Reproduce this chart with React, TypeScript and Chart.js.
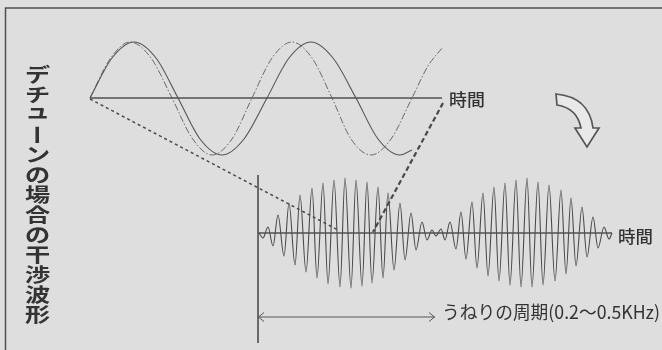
import React, { useEffect, useRef } from "react";
import { Chart, registerables } from "chart.js";

Chart.register(...registerables);

// ---- data (pixel-like units of a 662x350 frame) ----
const titleText = "デチューンの場合の干渉波形";
const timeLabel = "時間";
const periodLabel = "うねりの周期(0.2〜0.5KHz)";

// upper figure: two sine waves of slightly different pitch
const topAxisX = [90, 442];
const topAxisY = [98, 98];
const waveAX = [90, 110, 130, 151, 172, 192, 212, 232, 252, 272, 292, 312, 332, 351, 371, 391, 412, 428, 443];
const waveAY = [98, 59, 42, 58, 98, 138, 155, 139, 98, 58, 42, 58, 98, 139, 155, 139, 98, 66, 47];
const waveBX = [90, 112, 134, 156, 178, 200, 222, 244, 267, 289, 311, 333, 356, 378, 400, 412];
const waveBY = [98, 58, 42, 58, 98, 139, 155, 139, 98, 58, 42, 58, 98, 139, 155, 150];

// lower figure: interference (beat) waveform, peaks and troughs
const beatAxisX = [258, 612];
const beatAxisY = [233, 233];
const beatX = [259, 263, 268, 273, 278, 284, 289, 295, 300, 306, 312, 317, 323, 328, 334, 340, 345, 351, 356, 362, 367, 372, 378, 383, 388, 394, 400, 405, 411, 416, 422, 427, 432, 436, 441, 445, 450, 456, 461, 466, 472, 477, 483, 488, 494, 499, 505, 510, 516, 521, 527, 532, 538, 543, 549, 555, 561, 566, 571, 576, 582, 587, 593, 598, 604, 609, 612];
const beatY = [233, 238, 227, 246, 215, 256, 203, 265, 195, 272, 188, 278, 183, 284, 180, 287, 178, 288, 180, 286, 182, 283, 187, 278, 193, 270, 203, 260, 213, 250, 222, 240, 230, 236, 229, 240, 222, 249, 212, 259, 202, 268, 193, 276, 187, 281, 183, 285, 180, 287, 178, 287, 182, 285, 185, 281, 190, 274, 198, 266, 207, 257, 217, 248, 227, 239, 233];

// guide lines
const startMarkX = [258, 258];
const startMarkY = [175, 343];
const guide1X = [90, 338];
const guide1Y = [99, 230];
const guide2X = [443, 373];
const guide2Y = [103, 232];
const periodArrowX = [258, 435];
const periodArrowY = [317, 317];

const pts = (xs: number[], ys: number[]) => xs.map((x, i) => ({ x, y: ys[i] }));

const INK = "#4a4a4a";
const TEXT = "#333333";

const decorPlugin = {
  id: "decor",
  beforeDatasetsDraw(chart: any) {
    const { ctx, scales } = chart;
    const X = (v: number) => scales.x.getPixelForValue(v);
    const Y = (v: number) => scales.y.getPixelForValue(v);
    ctx.save();
    // frame
    ctx.strokeStyle = "#505050";
    ctx.lineWidth = 1.5;
    ctx.beginPath();
    ctx.moveTo(X(662), Y(8));
    ctx.lineTo(X(5.5), Y(8));
    ctx.lineTo(X(5.5), Y(350));
    ctx.stroke();
    ctx.restore();
  },
  afterDatasetsDraw(chart: any) {
    const { ctx, scales } = chart;
    const X = (v: number) => scales.x.getPixelForValue(v);
    const Y = (v: number) => scales.y.getPixelForValue(v);
    ctx.save();

    // period arrow heads
    ctx.strokeStyle = "#555";
    ctx.lineWidth = 1;
    ctx.beginPath();
    ctx.moveTo(X(264), Y(312.5));
    ctx.lineTo(X(258.5), Y(317));
    ctx.lineTo(X(264), Y(321.5));
    ctx.moveTo(X(429), Y(312.5));
    ctx.lineTo(X(434.5), Y(317));
    ctx.lineTo(X(429), Y(321.5));
    ctx.stroke();

    // curved hollow arrow
    ctx.beginPath();
    ctx.moveTo(X(556), Y(94));
    ctx.quadraticCurveTo(X(589), Y(97), X(593), Y(128));
    ctx.lineTo(X(599), Y(128));
    ctx.lineTo(X(587), Y(147));
    ctx.lineTo(X(575), Y(128));
    ctx.lineTo(X(581), Y(128));
    ctx.quadraticCurveTo(X(577), Y(108), X(557), Y(105));
    ctx.closePath();
    ctx.fillStyle = "#e9e9e9";
    ctx.fill();
    ctx.strokeStyle = "#555";
    ctx.lineWidth = 1.7;
    ctx.lineJoin = "miter";
    ctx.stroke();

    // texts
    ctx.fillStyle = TEXT;
    ctx.textAlign = "center";
    ctx.textBaseline = "middle";
    const fit = (text: string, left: number, right: number, cy: number, font: string, sy: number) => {
      ctx.save();
      ctx.font = font;
      const w = ctx.measureText(text).width;
      const sx = (X(right) - X(left)) / w;
      ctx.translate((X(left) + X(right)) / 2, Y(cy));
      ctx.scale(sx, sy);
      ctx.fillText(text, 0, 0);
      ctx.restore();
    };
    fit(timeLabel, 449, 485, 100, '500 18px "Noto Sans CJK JP"', 0.92);
    fit(timeLabel, 618, 653, 237, '500 18px "Noto Sans CJK JP"', 0.92);
    fit(periodLabel, 442, 660, 312, '400 19px "Noto Sans CJK JP"', 0.95);

    // vertical title
    const chars = Array.from(titleText);
    chars.forEach((ch, i) => {
      ctx.save();
      ctx.font = '700 21px "Noto Sans CJK JP"';
      let dy = 0;
      let dx = 0;
      if (ch === "ュ") {
        dy = -4;
        dx = 0;
      }
      ctx.translate(X(37.5 + dx), Y(75 + i * 20 + dy));
      if (ch === "ー") {
        ctx.rotate(Math.PI / 2);
        ctx.scale(0.95, 1.15);
      } else {
        ctx.scale(1.2, 0.93);
      }
      ctx.fillText(ch, 0, 0);
      ctx.restore();
    });
    ctx.restore();
  },
};

export default function App() {
  const canvasRef = useRef<HTMLCanvasElement>(null);
  useEffect(() => {
    document.body.style.margin = "0";
    const line = (data: any[], color: string, width: number, dash: number[] = [], smooth = false) => ({
      data,
      showLine: true,
      borderColor: color,
      backgroundColor: color,
      borderWidth: width,
      borderDash: dash,
      pointRadius: 0,
      fill: false,
      tension: 0,
      cubicInterpolationMode: smooth ? "monotone" : "default",
    });
    const chart = new Chart(canvasRef.current as HTMLCanvasElement, {
      type: "scatter",
      data: {
        datasets: [
          line(pts(topAxisX, topAxisY), "#505050", 1.3),
          line(pts(waveBX, waveBY), "#555555", 1.1, [], true),
          line(pts(waveAX, waveAY), "#6a6a6a", 1, [7, 2, 1.5, 2], true),
          line(pts(beatAxisX, beatAxisY), "#505050", 1.3),
          line(pts(beatX, beatY), INK, 1.1, [], true),
          line(pts(startMarkX, startMarkY), "#5a5a5a", 1),
          line(pts(guide1X, guide1Y), "#4a4a4a", 1.5, [3, 3]),
          line(pts(guide2X, guide2Y), "#4a4a4a", 2.2, [5, 3]),
          line(pts(periodArrowX, periodArrowY), "#555555", 1),
        ] as any,
      },
      options: {
        animation: false,
        responsive: false,
        maintainAspectRatio: false,
        layout: { padding: 0 },
        events: [],
        plugins: { legend: { display: false }, tooltip: { enabled: false } },
        scales: {
          x: { type: "linear", min: 0, max: 662, display: false },
          y: { type: "linear", min: 0, max: 350, reverse: true, display: false },
        },
      },
      plugins: [decorPlugin],
    } as any);
    return () => chart.destroy();
  }, []);
  return (
    <div style={{ width: 662, height: 350, background: "#dedede" }}>
      <canvas ref={canvasRef} width={662} height={350} style={{ display: "block" }} />
    </div>
  );
}
